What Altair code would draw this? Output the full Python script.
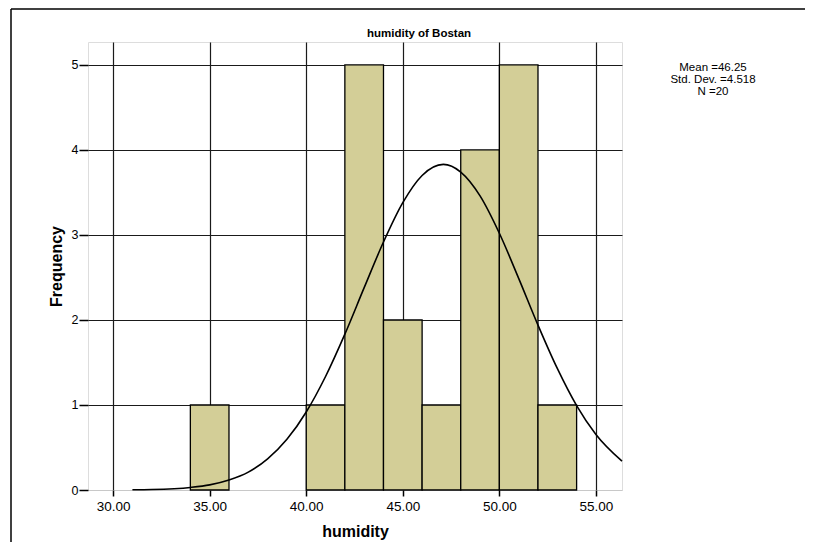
import altair as alt
import pandas as pd

# Histogram bins (humidity) and frequencies
bin_start = [34, 40, 42, 44, 46, 48, 50, 52]
bin_end = [36, 42, 44, 46, 48, 50, 52, 54]
counts = [1, 1, 5, 2, 1, 4, 5, 1]

# Normal curve
curve_x = [31, 32, 34, 35, 36, 37, 38, 39, 40, 41, 42, 43, 44, 45, 46, 47.1,
           48, 49, 50, 51, 52, 53, 54, 55, 56.35]
curve_y = [0.003, 0.006, 0.03, 0.06, 0.117, 0.21, 0.366, 0.596, 0.918, 1.335,
           1.833, 2.38, 2.917, 3.38, 3.70, 3.83, 3.74, 3.46, 3.02, 2.49, 1.94,
           1.43, 0.993, 0.653, 0.339]

x_ticks = [30, 35, 40, 45, 50, 55]
y_ticks = [0, 1, 2, 3, 4, 5]
stats_lines = ["Mean =46.25", "Std. Dev. =4.518", "N =20"]
title_text = "humidity of Bostan"

FONT = "Liberation Sans"
W, H = 534, 448

bars_df = pd.DataFrame({"start": bin_start, "end": bin_end, "count": counts})
curve_df = pd.DataFrame({"x": curve_x, "y": curve_y})
one = pd.DataFrame({"a": [0]})

xscale = alt.Scale(domain=[28.7, 56.35], nice=False, zero=False)
yscale = alt.Scale(domain=[0, 5.27], nice=False)

xaxis = alt.Axis(values=x_ticks, format=".2f", grid=True, gridColor="#1a1a1a",
                 gridWidth=1.2, domain=False, tickColor="#000", tickSize=6,
                 tickWidth=1.5, labelFont=FONT, labelFontSize=13.5,
                 labelColor="#000", labelPadding=3, title="humidity",
                 titleFont=FONT, titleFontSize=16, titleFontWeight="bold",
                 titleColor="#000", titlePadding=11)
yaxis = alt.Axis(values=y_ticks, format="d", grid=True,
                 gridColor={"condition": {"test": "datum.value === 0", "value": "#c8c8c8"},
                            "value": "#1a1a1a"},
                 gridWidth=1.2, domain=False, tickColor="#000", tickSize=9,
                 tickWidth=1.5, labelFont=FONT, labelFontSize=12.5,
                 labelColor="#000", labelPadding=1, title="Frequency",
                 titleFont=FONT, titleFontSize=16, titleFontWeight="bold",
                 titleColor="#000", titlePadding=7)

bars = alt.Chart(bars_df).mark_rect(fill="#d3ce97", stroke="#000", strokeWidth=1.3).encode(
    x=alt.X("start:Q", scale=xscale, axis=xaxis),
    x2="end:Q",
    y=alt.Y("count:Q", scale=yscale, axis=yaxis),
    y2=alt.datum(0),
)

curve = alt.Chart(curve_df).mark_line(color="#000", strokeWidth=1.6,
                                      interpolate="monotone").encode(
    x=alt.X("x:Q", scale=xscale),
    y=alt.Y("y:Q", scale=yscale),
)

title = alt.Chart(one).mark_text(text=title_text, font=FONT, fontSize=11.5,
                                 fontWeight="bold", color="#000",
                                 baseline="middle", align="center").encode(
    x=alt.value(331), y=alt.value(-8))

stats = alt.Chart(one).mark_text(text=stats_lines, font=FONT, fontSize=11.5,
                                 lineHeight=12, color="#000",
                                 baseline="top", align="center").encode(
    x=alt.value(625), y=alt.value(20))

frame_top = alt.Chart(one).mark_rule(color="#000", strokeWidth=1.5).encode(
    x=alt.value(-77), x2=alt.value(740), y=alt.value(-33))
frame_left = alt.Chart(one).mark_rule(color="#000", strokeWidth=1.5).encode(
    x=alt.value(-77), y=alt.value(-33), y2=alt.value(520))

chart = alt.layer(bars, curve, title, stats, frame_top, frame_left).properties(
    width=W, height=H,
    autosize=alt.AutoSizeParams(type="none"),
    padding={"left": 80, "top": 34, "right": 183, "bottom": 52},
).configure_view(fill="#f0f0f0", stroke="#c8c8c8", strokeWidth=1.5
).configure(background="#ffffff")

chart.save("out.html", embed_options={"renderer": "svg", "actions": False})
